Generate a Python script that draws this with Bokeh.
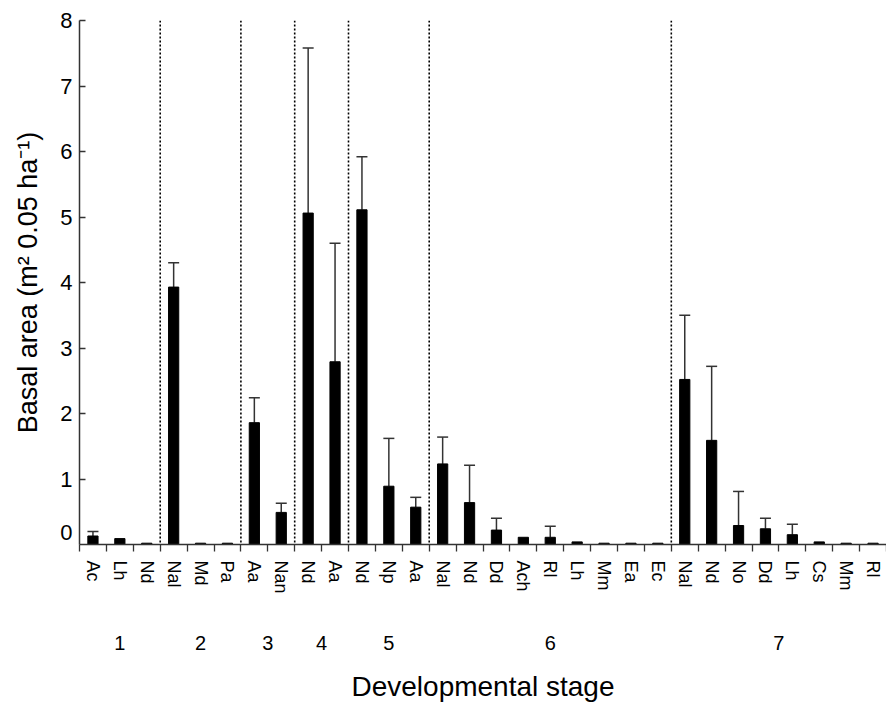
from bokeh.plotting import figure
from bokeh.models import (Range1d, LinearAxis, FixedTicker, Span, Whisker,
                          ColumnDataSource)
from bokeh.embed import file_html
from bokeh.resources import INLINE

# ---- data ----
stages = ["1", "2", "3", "4", "5", "6", "7"]
species = [
    ["Ac", "Lh", "Nd"],
    ["Nal", "Md", "Pa"],
    ["Aa", "Nan"],
    ["Nd", "Aa"],
    ["Nd", "Np", "Aa"],
    ["Nal", "Nd", "Dd", "Ach", "Rl", "Lh", "Mm", "Ea", "Ec"],
    ["Nal", "Nd", "No", "Dd", "Lh", "Cs", "Mm", "Rl"],
]
basal_area = [
    [0.13, 0.09, 0.02],
    [3.93, 0.02, 0.02],
    [1.86, 0.49],
    [5.06, 2.79],
    [5.11, 0.89, 0.57],
    [1.23, 0.64, 0.22, 0.11, 0.11, 0.04, 0.02, 0.02, 0.02],
    [2.52, 1.59, 0.29, 0.24, 0.15, 0.04, 0.02, 0.02],
]
error_top = [
    [0.20, 0.0, 0.0],
    [4.30, 0.0, 0.0],
    [2.24, 0.63],
    [7.58, 4.60],
    [5.92, 1.62, 0.72],
    [1.64, 1.21, 0.40, 0.0, 0.28, 0.0, 0.0, 0.0, 0.0],
    [3.50, 2.72, 0.81, 0.40, 0.31, 0.0, 0.0, 0.0],
]
y_ticks = [1, 2, 3, 4, 5, 6, 7, 8]
zero_label_pos = 0.18

# ---- flatten ----
labels, vals, errs, xs = [], [], [], []
group_centers, boundaries = [], []
i = 0
for g, sp in enumerate(species):
    start = i
    for k, s in enumerate(sp):
        labels.append(s)
        vals.append(basal_area[g][k])
        errs.append(error_top[g][k])
        xs.append(i)
        i += 1
    group_centers.append(start + (len(sp) - 1) / 2)
    boundaries.append(i - 0.5)
n = i

FONT = "Liberation Sans"
AX = "#333333"

p = figure(frame_width=807, frame_height=524,
           x_range=Range1d(-0.5, n - 0.5), y_range=Range1d(0, 8),
           x_axis_type=None, y_axis_type=None,
           toolbar_location=None, output_backend="svg",
           min_border_left=79, min_border_top=20,
           min_border_right=0, min_border_bottom=0)
p.outline_line_color = None
p.background_fill_color = "white"

# dotted stage separators
for b in boundaries[:-1]:
    p.add_layout(Span(location=b, dimension="height", line_color="black",
                      line_dash="2 2", line_width=1.6))

src = ColumnDataSource(dict(x=xs, top=vals))
p.vbar(x="x", top="top", bottom=0, width=0.38, source=src,
       fill_color="black", line_color="black", line_width=1)

ex = [x for x, e in zip(xs, errs) if e > 0]
elo = [v for v, e in zip(vals, errs) if e > 0]
ehi = [e for e in errs if e > 0]
esrc = ColumnDataSource(dict(base=ex, lower=elo, upper=ehi))
w = Whisker(base="base", lower="lower", upper="upper", source=esrc,
            line_color=AX, line_width=1.5, lower_head=None)
w.upper_head.size = 11
w.upper_head.line_color = AX
w.upper_head.line_width = 1.5
p.add_layout(w)

# y axis
yax = LinearAxis(ticker=FixedTicker(ticks=[zero_label_pos] + y_ticks,
                                    minor_ticks=y_ticks),
                 major_label_overrides={zero_label_pos: "0"},
                 axis_label="Basal area (m² 0.05 ha⁻¹)")
yax.axis_line_color = AX
yax.axis_line_width = 1.5
yax.major_tick_line_color = None
yax.major_tick_in = 0
yax.major_tick_out = 0
yax.minor_tick_line_color = AX
yax.minor_tick_line_width = 1.5
yax.minor_tick_in = 6
yax.minor_tick_out = 0
yax.major_label_standoff = 7
yax.major_label_text_font = FONT
yax.major_label_text_font_size = "22px"
yax.major_label_text_color = "black"
yax.axis_label_text_font = FONT
yax.axis_label_text_font_size = "27px"
yax.axis_label_text_font_style = "normal"
yax.axis_label_text_color = "black"
yax.axis_label_standoff = 14
p.add_layout(yax, "left")

# species axis
xax = LinearAxis(ticker=FixedTicker(ticks=xs,
                                    minor_ticks=[x - 0.5 for x in range(n + 1)]),
                 major_label_overrides={x: l for x, l in zip(xs, labels)})
xax.axis_line_color = AX
xax.axis_line_width = 1.5
xax.major_tick_line_color = None
xax.major_tick_in = 0
xax.major_tick_out = 0
xax.minor_tick_line_color = AX
xax.minor_tick_line_width = 1.3
xax.minor_tick_in = 0
xax.minor_tick_out = 7
xax.major_label_orientation = "vertical"
xax.major_label_standoff = 9
xax.major_label_text_font = FONT
xax.major_label_text_font_size = "18px"
xax.major_label_text_color = "black"
p.add_layout(xax, "below")

# stage axis
gax = LinearAxis(ticker=FixedTicker(ticks=group_centers, minor_ticks=[]),
                 major_label_overrides={c: s for c, s in zip(group_centers, stages)},
                 axis_label="Developmental stage")
gax.axis_line_color = None
gax.major_tick_line_color = None
gax.minor_tick_line_color = None
gax.major_tick_in = 0
gax.major_tick_out = 0
gax.major_label_standoff = 39
gax.major_label_text_font = FONT
gax.major_label_text_font_size = "20px"
gax.major_label_text_color = "black"
gax.axis_label_text_font = FONT
gax.axis_label_text_font_size = "28px"
gax.axis_label_text_font_style = "normal"
gax.axis_label_text_color = "black"
gax.axis_label_standoff = 18
p.add_layout(gax, "below")

open("out.html", "w").write(file_html(p, INLINE))
